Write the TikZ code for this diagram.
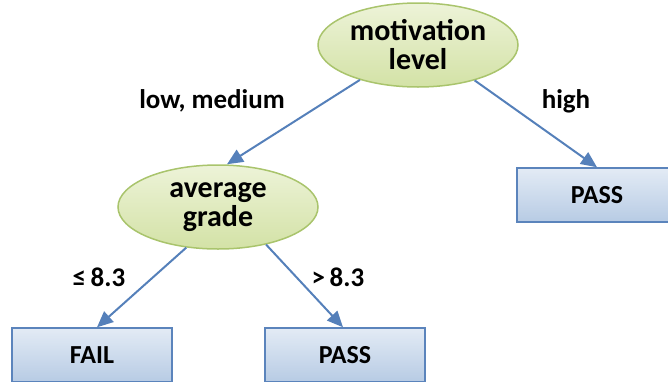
\documentclass[tikz,border=0pt]{standalone}
\usepackage{fontspec}
\setmainfont{Carlito}
\usetikzlibrary{arrows.meta,shapes.geometric}
\definecolor{ellborder}{HTML}{A9C46C}
\definecolor{elltop}{HTML}{EDF3D8}
\definecolor{ellbot}{HTML}{D3E2A6}
\definecolor{boxborder}{HTML}{5B84BC}
\definecolor{boxtop}{HTML}{E3EBF5}
\definecolor{boxbot}{HTML}{B7CBE4}
\definecolor{arrowcol}{HTML}{5580BA}
\tikzset{
  decision/.style={ellipse, draw=ellborder, line width=1.5pt, top color=elltop, bottom color=ellbot,
    minimum width=200pt, minimum height=84pt, inner sep=0pt, align=center,
    font=\fontsize{30}{29}\selectfont\bfseries},
  leaf/.style={rectangle, draw=boxborder, line width=1.5pt, top color=boxtop, bottom color=boxbot,
    minimum width=160pt, minimum height=54pt, inner sep=0pt,
    font=\fontsize{26}{28}\selectfont\bfseries},
  conn/.style={draw=arrowcol, line width=2pt, -{Triangle[length=16pt,width=14pt]}},
  lab/.style={font=\fontsize{27}{29}\selectfont\bfseries, inner sep=0pt}
}
\begin{document}
\begin{tikzpicture}[x=1pt,y=-1pt]
\useasboundingbox (0,0) rectangle (668,381);
\node[decision] (mot) at (418,45) {motivation\\level};
\node[decision] (avg) at (218,207) {average\\grade};
\node[leaf] (pr) at (597,195) {PASS};
\node[leaf] (fail) at (92,355) {FAIL};
\node[leaf] (pb) at (345,355) {PASS};
\draw[conn] (mot.211) -- ([xshift=9pt]avg.north);
\draw[conn] (mot.328) -- (pr.north);
\draw[conn] (avg.232) -- ([xshift=5pt]fail.north);
\draw[conn] (avg.322) -- ([xshift=-2pt]pb.north);
\node[lab] (l1) at (212,101) {low, medium};
\node[lab] (l2) at (566,101) {high};
\node[lab] (l3) at (99,277) {≤\,8.3};
\node[lab] (l4) at (338,277) {>\,8.3};
\end{tikzpicture}
\end{document}
